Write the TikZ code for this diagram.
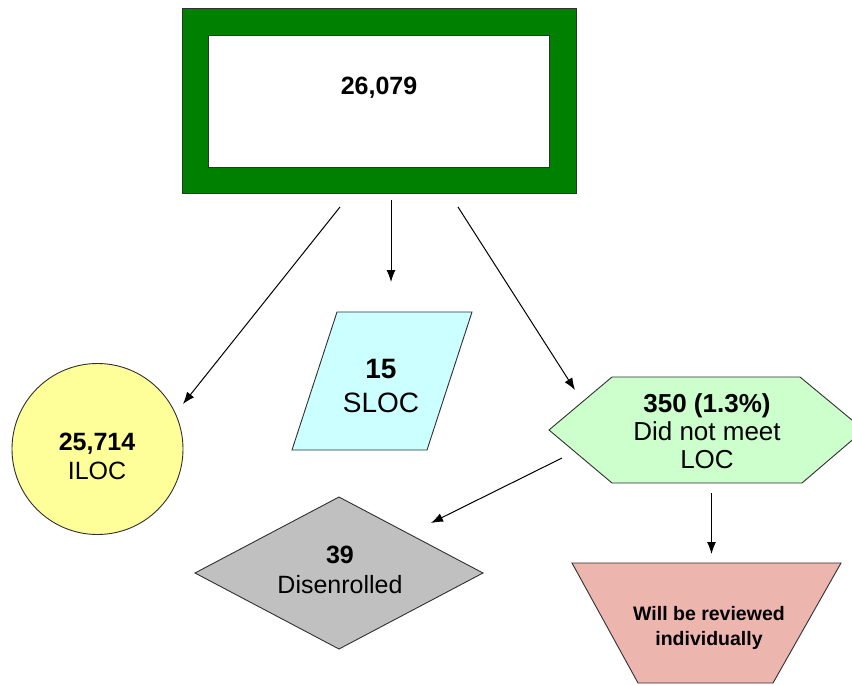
\documentclass[tikz,border=0pt]{standalone}
\usepackage{fontspec}
\setmainfont{Liberation Sans}
\usetikzlibrary{arrows.meta}
\definecolor{boxgreen}{HTML}{008000}
\definecolor{ilocfill}{HTML}{FFFF99}
\definecolor{slocfill}{HTML}{CCFFFF}
\definecolor{hexfill}{HTML}{CCFFCC}
\definecolor{disfill}{HTML}{C0C0C0}
\definecolor{revfill}{HTML}{ECB6AF}
\definecolor{edge}{HTML}{303030}
\tikzset{
  outline/.style={draw=edge, line width=0.9pt},
  conn/.style={draw=black, line width=1pt, -{Latex[length=12pt,width=9pt]}},
  txt/.style={anchor=base, inner sep=0pt, font=\fontsize{25}{29}\selectfont},
  txtb/.style={txt, font=\fontsize{25}{29}\selectfont\bfseries},
  txtbig/.style={anchor=base, inner sep=0pt, font=\fontsize{28}{32}\selectfont},
  txtsmall/.style={anchor=base, inner sep=0pt, font=\fontsize{19.5}{23}\selectfont\bfseries}
}
\begin{document}
\begin{tikzpicture}[x=1pt,y=-1pt]
\useasboundingbox (0,0) rectangle (852,685);
\fill[white] (0,0) rectangle (852,685);
\begin{scope}
\clip (0,0) rectangle (852,685);
% top box
\draw[outline, fill=boxgreen] (182,8) rectangle (576,193);
\draw[outline, fill=white] (208,35) rectangle (549,167);
\node[txtb] (total) at (379,95) {26,079};
% ILOC circle
\node[circle, outline, fill=ilocfill, minimum size=171pt, inner sep=0pt] (iloc) at (97.5,449) {};
\node[txtb] (ilocnum) at (97,450) {25,714};
\node[txt] (iloctxt) at (97,479) {ILOC};
% SLOC parallelogram
\draw[outline, fill=slocfill] (337,312) -- (472,312) -- (427,450) -- (292,450) -- cycle;
\node[txtbig, font=\fontsize{28}{32}\selectfont\bfseries] (slocnum) at (381,378) {15};
\node[txtbig] (sloctxt) at (381,412) {SLOC};
% hexagon
\draw[outline, fill=hexfill] (549,430) -- (612,377) -- (800,377) -- (864,430) -- (802,483) -- (612,483) -- cycle;
\node[txtb, font=\fontsize{26}{29}\selectfont\bfseries] (hexnum) at (707,412) {350 (1.3\%)};
\node[txt, font=\fontsize{26}{29}\selectfont] (hextxt1) at (707,440) {Did not meet};
\node[txt, font=\fontsize{26}{29}\selectfont] (hextxt2) at (707,468) {LOC};
% diamond
\draw[outline, fill=disfill] (339,497) -- (483,573) -- (339,649) -- (195,573) -- cycle;
\node[txtb] (disnum) at (340,563) {39};
\node[txt] (distxt) at (340,593) {Disenrolled};
% trapezoid
\draw[outline, fill=revfill] (572,563) -- (841,563) -- (773,683) -- (638,683) -- cycle;
\node[txtsmall] (rev1) at (709,620) {Will be reviewed};
\node[txtsmall] (rev2) at (709,645) {individually};
\end{scope}
% connector end points
\coordinate (a1s) at (340,207);
\coordinate (a1e) at (183,404);
\coordinate (a2s) at (391,200);
\coordinate (a2e) at (391,282);
\coordinate (a3s) at (458,207);
\coordinate (a3e) at (575,390);
\coordinate (a4s) at (562,458);
\coordinate (a4e) at (431,523);
\coordinate (a5s) at (711.5,493);
\coordinate (a5e) at (711.5,554);
\draw[conn] (a1s) -- (a1e);
\draw[conn] (a2s) -- (a2e);
\draw[conn] (a3s) -- (a3e);
\draw[conn] (a4s) -- (a4e);
\draw[conn] (a5s) -- (a5e);
\end{tikzpicture}
\end{document}
